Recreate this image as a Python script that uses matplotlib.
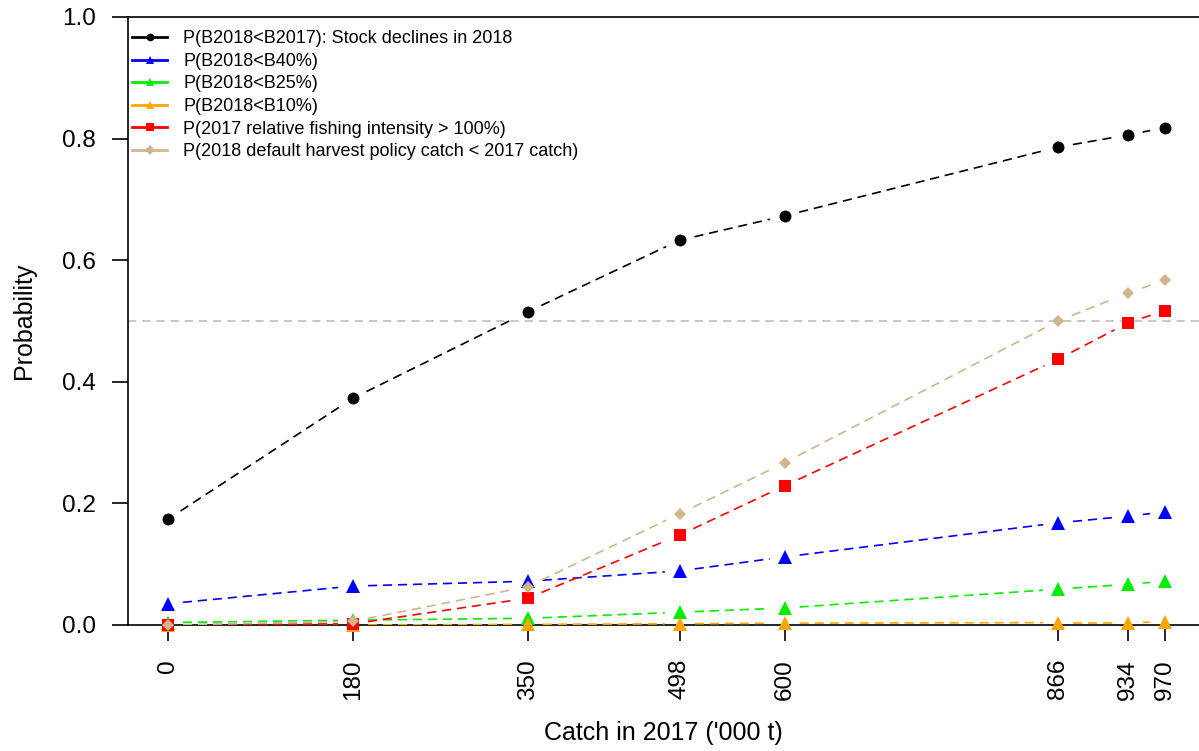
import numpy as np
import matplotlib
matplotlib.use('Agg')
import matplotlib.pyplot as plt
from matplotlib.lines import Line2D

plt.rcParams['font.family'] = ['Liberation Sans', 'DejaVu Sans']

catch = [0, 180, 350, 498, 600, 866, 934, 970]

p_decline = [0.174, 0.373, 0.515, 0.633, 0.673, 0.786, 0.806, 0.818]
p_b40 = [0.035, 0.064, 0.072, 0.089, 0.112, 0.168, 0.179, 0.186]
p_b25 = [0.004, 0.008, 0.011, 0.021, 0.028, 0.059, 0.067, 0.072]
p_b10 = [0.000, 0.000, 0.001, 0.002, 0.003, 0.004, 0.004, 0.005]
p_fishing = [0.000, 0.002, 0.044, 0.148, 0.229, 0.437, 0.497, 0.517]
p_harvest = [0.000, 0.006, 0.063, 0.183, 0.267, 0.500, 0.546, 0.567]

labels = [
    'P(B2018<B2017): Stock declines in 2018',
    'P(B2018<B40%)',
    'P(B2018<B25%)',
    'P(B2018<B10%)',
    'P(2017 relative fishing intensity > 100%)',
    'P(2018 default harvest policy catch < 2017 catch)',
]

series = [p_decline, p_b40, p_b25, p_b10, p_fishing, p_harvest]
colors = ['black', 'blue', '#00ee00', 'orange', 'red', 'tan']
markers = ['o', '^', '^', '^', 's', 'D']
msizes = [8.6, 10.5, 10.5, 10.5, 8.2, 5.8]


def gapped_line(ax, x, y, gap_px, **kw):
    # R-style type="b": leave a gap around each point
    pts = ax.transData.transform(np.column_stack([x, y]))
    inv = ax.transData.inverted()
    for p0, p1 in zip(pts[:-1], pts[1:]):
        d = p1 - p0
        length = np.hypot(*d)
        if length <= 2 * gap_px:
            continue
        u = d / length
        a, b = inv.transform([p0 + u * gap_px, p1 - u * gap_px])
        ax.plot([a[0], b[0]], [a[1], b[1]], **kw)


fig = plt.figure(figsize=(11.99, 7.51), dpi=100)
ax = fig.add_axes([0.10676, 0.16778, 0.8932, 0.8096])
ax.set_xlim(-38.9, 1003.1)
ax.set_ylim(0, 1)
fig.canvas.draw()

ax.axhline(0.5, color='#bdbdbd', lw=1.2, dashes=(5, 3.5), zorder=1)
ax.axhline(0, color='black', lw=1.2, clip_on=False, zorder=2)
ax.axhline(1, color='black', lw=1.2, clip_on=False, zorder=2)

for vals, col, mk, ms in zip(series, colors, markers, msizes):
    gapped_line(ax, catch, vals, 15, color=col, lw=1.2, dashes=(5.5, 3.5), zorder=3)
    ax.plot(catch, vals, linestyle='none', marker=mk, color=col, ms=ms,
            markeredgewidth=0, zorder=4, clip_on=False)

for side in ['top', 'right', 'bottom']:
    ax.spines[side].set_visible(False)
ax.spines['left'].set_linewidth(1.2)

ax.set_yticks([0, 0.2, 0.4, 0.6, 0.8, 1.0])
ax.set_yticklabels(['0.0', '0.2', '0.4', '0.6', '0.8', '1.0'])
ax.set_xticks(catch)
ax.set_xticklabels([str(c) for c in catch], rotation=90)
ax.tick_params(axis='y', length=11.5, width=1.2, pad=11.5, labelsize=17.5)
ax.tick_params(axis='x', length=11.5, width=1.2, pad=13, labelsize=17.5)

ax.set_ylabel('Probability', fontsize=18, labelpad=19)
ax.set_xlabel("Catch in 2017 ('000 t)", fontsize=18, labelpad=15)

handles = [Line2D([], [], color=c, lw=2, marker=m, ms=5.5, markeredgewidth=0)
           for c, m in zip(colors, markers)]
ax.legend(handles, labels, loc='upper left', bbox_to_anchor=(-0.003, 0.99),
          frameon=False, fontsize=13, handlelength=1.94, handletextpad=0.9,
          labelspacing=0.31, borderaxespad=0.0)

fig.savefig('out.png', dpi=100)
